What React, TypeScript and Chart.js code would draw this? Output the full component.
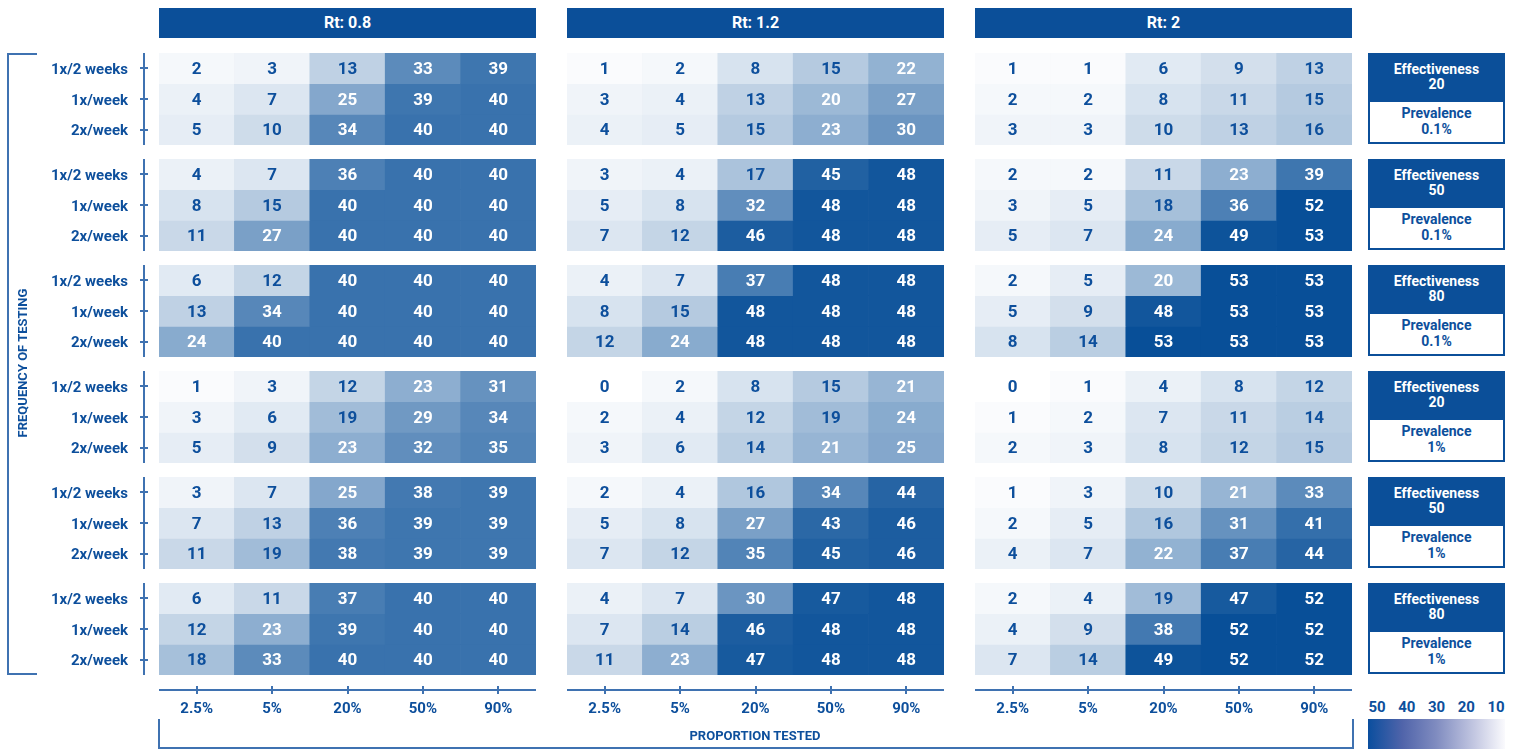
import React, { useEffect, useRef } from "react";
import { Chart, registerables } from "chart.js";

Chart.register(...registerables);

const FONT = "Roboto, 'Liberation Sans', sans-serif";
const INK = "#0d4f9c";
const DARK = "#0b4f99";
const RULE = "#3f72b1";

// Facet and axis labels
const rtLabels = ["Rt: 0.8", "Rt: 1.2", "Rt: 2"];
const proportions = ["2.5%", "5%", "20%", "50%", "90%"];
const frequencies = ["1x/2 weeks", "1x/week", "2x/week"];
const effectiveness = ["20", "50", "80", "20", "50", "80"];
const prevalence = ["0.1%", "0.1%", "0.1%", "1%", "1%", "1%"];
const legendTicks = [50, 40, 30, 20, 10];

// Cell values: [facet row][frequency][proportion tested]
const rt08 = [
  [[2, 3, 13, 33, 39], [4, 7, 25, 39, 40], [5, 10, 34, 40, 40]],
  [[4, 7, 36, 40, 40], [8, 15, 40, 40, 40], [11, 27, 40, 40, 40]],
  [[6, 12, 40, 40, 40], [13, 34, 40, 40, 40], [24, 40, 40, 40, 40]],
  [[1, 3, 12, 23, 31], [3, 6, 19, 29, 34], [5, 9, 23, 32, 35]],
  [[3, 7, 25, 38, 39], [7, 13, 36, 39, 39], [11, 19, 38, 39, 39]],
  [[6, 11, 37, 40, 40], [12, 23, 39, 40, 40], [18, 33, 40, 40, 40]],
];
const rt12 = [
  [[1, 2, 8, 15, 22], [3, 4, 13, 20, 27], [4, 5, 15, 23, 30]],
  [[3, 4, 17, 45, 48], [5, 8, 32, 48, 48], [7, 12, 46, 48, 48]],
  [[4, 7, 37, 48, 48], [8, 15, 48, 48, 48], [12, 24, 48, 48, 48]],
  [[0, 2, 8, 15, 21], [2, 4, 12, 19, 24], [3, 6, 14, 21, 25]],
  [[2, 4, 16, 34, 44], [5, 8, 27, 43, 46], [7, 12, 35, 45, 46]],
  [[4, 7, 30, 47, 48], [7, 14, 46, 48, 48], [11, 23, 47, 48, 48]],
];
const rt2 = [
  [[1, 1, 6, 9, 13], [2, 2, 8, 11, 15], [3, 3, 10, 13, 16]],
  [[2, 2, 11, 23, 39], [3, 5, 18, 36, 52], [5, 7, 24, 49, 53]],
  [[2, 5, 20, 53, 53], [5, 9, 48, 53, 53], [8, 14, 53, 53, 53]],
  [[0, 1, 4, 8, 12], [1, 2, 7, 11, 14], [2, 3, 8, 12, 15]],
  [[1, 3, 10, 21, 33], [2, 5, 16, 31, 41], [4, 7, 22, 37, 44]],
  [[2, 4, 19, 47, 52], [4, 9, 38, 52, 52], [7, 14, 49, 52, 52]],
];
const rtValues = [rt08, rt12, rt2];

// Layout
const COL_LEFT = [159, 567, 975];
const PANEL_W = 377;
const PANEL_H = 92;
const TOP0 = 53;
const PITCH = 106;
const X_AXIS_SPACE = 50;

function cellColor(v: number): string {
  const t = Math.min(v / 50, 1);
  const r = Math.round(255 - 247 * t);
  const g = Math.round(255 - 176 * t);
  const b = Math.round(255 - 103 * t);
  return `rgb(${r},${g},${b})`;
}

type PanelProps = {
  values: number[][];
  showY: boolean;
  showX: boolean;
  left: number;
  top: number;
};

function Panel({ values, showY, showX, left, top }: PanelProps) {
  const ref = useRef<HTMLCanvasElement>(null);
  const padL = showY ? left : 0;
  const padB = showX ? X_AXIS_SPACE : 0;
  const w = PANEL_W + padL;
  const h = PANEL_H + padB;

  useEffect(() => {
    if (!ref.current) return;

    const decor = {
      id: "panelDecor",
      afterDatasetsDraw(chart: any) {
        const ctx = chart.ctx as CanvasRenderingContext2D;
        ctx.save();
        ctx.font = `bold 17px ${FONT}`;
        ctx.textAlign = "center";
        ctx.textBaseline = "middle";
        values.forEach((row, di) => {
          const meta = chart.getDatasetMeta(di);
          meta.data.forEach((bar: any, j: number) => {
            const v = row[j];
            const p = bar.getProps(["x", "y", "base"], true);
            ctx.fillStyle = v >= 20 ? "#ffffff" : INK;
            ctx.fillText(String(v), p.x, (p.y + p.base) / 2 + 1.5);
          });
        });
        ctx.restore();
      },
      afterDraw(chart: any) {
        const ctx = chart.ctx as CanvasRenderingContext2D;
        const area = chart.chartArea;
        ctx.save();
        ctx.strokeStyle = RULE;
        ctx.lineWidth = 2;
        if (showY) {
          const ys = chart.scales.y;
          const ax = area.left - 15;
          ctx.beginPath();
          ctx.moveTo(ax, area.top);
          ctx.lineTo(ax, area.bottom);
          frequencies.forEach((_, i) => {
            const py = Math.round(ys.getPixelForValue(i + 0.5));
            ctx.moveTo(ax - 4, py);
            ctx.lineTo(ax + 4, py);
          });
          ctx.stroke();
        }
        if (showX) {
          const xs = chart.scales.x;
          const ay = area.bottom + 15;
          ctx.beginPath();
          ctx.moveTo(area.left, ay);
          ctx.lineTo(area.right, ay);
          proportions.forEach((_, j) => {
            const px = Math.round(xs.getPixelForValue(j));
            ctx.moveTo(px, ay - 4);
            ctx.lineTo(px, ay + 4);
          });
          ctx.stroke();
        }
        ctx.restore();
      },
    };

    const chart = new Chart(ref.current, {
      type: "bar",
      data: {
        labels: proportions,
        datasets: values.map((row, i) => ({
          label: frequencies[i],
          data: row.map(() => [i, i + 1]) as any,
          backgroundColor: row.map(cellColor),
          borderWidth: 0,
          barPercentage: 1,
          categoryPercentage: 1,
          grouped: false,
        })),
      },
      options: {
        responsive: false,
        animation: false,
        devicePixelRatio: 1,
        events: [],
        layout: { padding: 0, autoPadding: false },
        plugins: {
          legend: { display: false },
          tooltip: { enabled: false },
        },
        scales: {
          x: {
            type: "category",
            display: showX,
            // tick marks are drawn by the plugin; the tick length only spaces the labels
            grid: { display: false, drawTicks: true, tickLength: 25 },
            border: { display: false },
            ticks: {
              padding: 0,
              color: INK,
              font: { family: FONT, size: 15, weight: "bold" },
              maxRotation: 0,
            },
            afterFit: (s: any) => {
              s.height = padB;
            },
          },
          y: {
            type: "linear",
            min: 0,
            max: 3,
            reverse: true,
            display: showY,
            grid: { display: false, drawTicks: true, tickLength: 41 },
            border: { display: false },
            afterBuildTicks: (s: any) => {
              s.ticks = frequencies.map((_, i) => ({ value: i + 0.5 }));
            },
            ticks: {
              padding: -10,
              labelOffset: 2,
              color: INK,
              font: { family: FONT, size: 15, weight: "bold" },
              callback: (_v: any, i: number) => frequencies[i],
            },
            afterFit: (s: any) => {
              s.width = padL;
            },
          },
        },
      },
      plugins: [decor],
    });
    return () => chart.destroy();
  }, []);

  return (
    <canvas
      ref={ref}
      width={w}
      height={h}
      style={{ position: "absolute", left: left - padL, top, width: w, height: h }}
    />
  );
}

export default function App() {
  const bold = { fontFamily: FONT, fontWeight: 700 as const };
  return (
    <div
      style={{
        position: "absolute",
        left: 0,
        top: 0,
        width: 1515,
        height: 749,
        overflow: "hidden",
        background: "#ffffff",
        ...bold,
      }}
    >
      {/* Rt headers */}
      {rtLabels.map((t, c) => (
        <div
          key={t}
          style={{
            position: "absolute",
            left: COL_LEFT[c],
            top: 8,
            width: PANEL_W,
            height: 30,
            lineHeight: "30px",
            background: DARK,
            color: "#fff",
            fontSize: 16,
            textAlign: "center",
          }}
        >
          {t}
        </div>
      ))}

      {/* Heatmap panels */}
      {rtValues.map((groups, c) =>
        groups.map((vals, r) => (
          <Panel
            key={`${c}-${r}`}
            values={vals}
            showY={c === 0}
            showX={r === groups.length - 1}
            left={COL_LEFT[c]}
            top={TOP0 + PITCH * r}
          />
        ))
      )}

      {/* Effectiveness / prevalence strips */}
      {effectiveness.map((e, r) => (
        <div
          key={`strip-${r}`}
          style={{
            position: "absolute",
            left: 1368,
            top: TOP0 + PITCH * r,
            width: 137,
            height: 91,
            background: DARK,
          }}
        >
          <div
            style={{
              position: "absolute",
              left: 0,
              top: 9,
              width: 137,
              textAlign: "center",
              color: "#fff",
              fontSize: 14,
              lineHeight: "15px",
            }}
          >
            Effectiveness
            <br />
            {e}
          </div>
          <div
            style={{
              position: "absolute",
              left: 2,
              top: 49,
              width: 133,
              height: 40,
              background: "#fff",
              textAlign: "center",
              color: INK,
              fontSize: 14,
              lineHeight: "16px",
            }}
          >
            <div style={{ paddingTop: 3 }}>
              Prevalence
              <br />
              {prevalence[r]}
            </div>
          </div>
        </div>
      ))}

      {/* Left bracket and axis title */}
      <div
        style={{
          position: "absolute",
          left: 7,
          top: 53,
          width: 30,
          height: 622,
          boxSizing: "border-box",
          borderLeft: `2px solid ${RULE}`,
          borderTop: `2px solid ${RULE}`,
          borderBottom: `2px solid ${RULE}`,
        }}
      />
      <div
        style={{
          position: "absolute",
          left: 23 - 150,
          top: 363 - 8,
          width: 300,
          height: 16,
          lineHeight: "16px",
          textAlign: "center",
          color: INK,
          fontSize: 13,
          transform: "rotate(-90deg)",
        }}
      >
        FREQUENCY OF TESTING
      </div>

      {/* Bottom bracket and axis title */}
      <div
        style={{
          position: "absolute",
          left: 158,
          top: 719,
          width: 1196,
          height: 30,
          boxSizing: "border-box",
          borderLeft: `2px solid ${RULE}`,
          borderRight: `2px solid ${RULE}`,
          borderBottom: `2px solid ${RULE}`,
        }}
      />
      <div
        style={{
          position: "absolute",
          left: 555,
          top: 728,
          width: 400,
          lineHeight: "16px",
          textAlign: "center",
          color: INK,
          fontSize: 13,
        }}
      >
        PROPORTION TESTED
      </div>

      {/* Colour legend */}
      {legendTicks.map((v) => (
        <div
          key={`lt-${v}`}
          style={{
            position: "absolute",
            left: 1377 + ((50 - v) / 40) * 119 - 20,
            top: 699,
            width: 40,
            lineHeight: "16px",
            textAlign: "center",
            color: INK,
            fontSize: 15,
          }}
        >
          {v}
        </div>
      ))}
      <div
        style={{
          position: "absolute",
          left: 1368,
          top: 719,
          width: 137,
          height: 30,
          background:
            "linear-gradient(to right, rgb(10,78,158) 0%, rgb(80,100,170) 25%, rgb(128,140,192) 50%, rgb(196,200,226) 78%, rgb(250,250,253) 100%)",
        }}
      />
    </div>
  );
}
